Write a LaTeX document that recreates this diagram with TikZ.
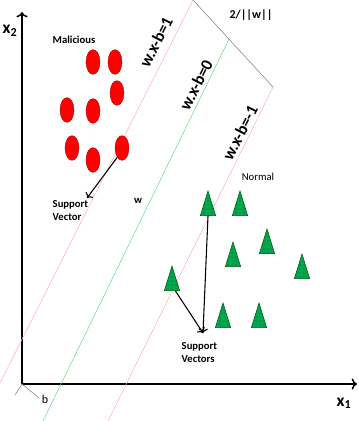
\documentclass[tikz,border=0pt]{standalone}
\usepackage{fontspec}
\setmainfont{Carlito}
\usetikzlibrary{arrows.meta,positioning,shapes.geometric,patterns}

\begin{document}
\begin{tikzpicture}[x=0.75pt,y=-0.75pt,
  mal/.style={ellipse, draw=red!70!black, line width=0.3pt, fill=red, minimum width=10.5pt, minimum height=18.5pt, inner sep=0pt},
  nor/.style={isosceles triangle, isosceles triangle stretches, shape border rotate=90, draw=green!35!black, line width=0.4pt, fill={rgb,255:red,0;green,166;blue,81}, postaction={pattern=dots, pattern color=green!40!black}, minimum width=11.5pt, minimum height=18.5pt, inner sep=0pt},
  lbl/.style={font=\bfseries\fontsize{8}{9.5}\selectfont, align=left},
  eqn/.style={font=\bfseries\fontsize{12.5}{14}\selectfont, rotate=63, inner sep=0pt}]
  \useasboundingbox (0,0) rectangle (358,421);

  % Draw axes
  \coordinate (o) at (22,384);
  \coordinate (ytop) at (22,12);
  \coordinate (xend) at (357,384);
  \draw[->, line width=1.1pt] (o) -- (ytop);
  \draw[->, line width=1.1pt] (o) -- (xend);
  \node[font=\bfseries\fontsize{13}{14}\selectfont] (x2) at (10,31) {x$_{\mathbf 2}$};
  \node[font=\bfseries\fontsize{13}{14}\selectfont] (x1) at (344,403) {x$_{\mathbf 1}$};

  % Hyperplanes
  \draw[red!30, line width=0.4pt] (0,383) -- (193,0);
  \draw[green!55!teal!60, line width=0.4pt] (43,421) -- (229,39);
  \draw[red!30, line width=0.4pt] (108,421) -- (273,87);
  \draw[gray, line width=0.4pt] (193,0) -- (273,87);
  \draw[gray, line width=0.4pt] (o) -- (15,395);
  \draw[gray, line width=0.4pt] (o) -- (39,398);

  \node[eqn] (h1) at (156,42) {w.x-b=1};
  \node[eqn] (h0) at (196,85) {w.x-b=0};
  \node[eqn] (hm) at (240,133) {w.x-b=-1};
  \node[lbl, font=\bfseries\fontsize{9}{10}\selectfont] (marg) at (251,15) {2/||w||};
  \node[lbl] (w) at (138,201) {w};
  \node[font=\fontsize{9}{10}\selectfont] (b) at (45,399) {b};

  % Malicious points
  \node[lbl] (mlab) at (74,40) {Malicious};
  \foreach \n/\px/\py in {1/93/62, 2/115/62, 3/117/93, 4/67/110, 5/93/111, 6/72/148, 7/93/160, 8/122/148}
    \node[mal] (e\n) at (\px,\py) {};

  % Normal points
  \node[font=\fontsize{8}{9.5}\selectfont] (nlab) at (258,177) {Normal};
  \foreach \n/\px/\py in {1/208/210, 2/240/210, 3/267/248, 4/233/261, 5/302/273, 6/223/322, 7/259/322, 8/172/285}
    \node[nor] (t\n) at (\px,\py) {};

  % Support vectors
  \coordinate (sv1) at (87,198);
  \draw[->, thick] (e8.243) -- (sv1);
  \node[lbl, anchor=north west] (svlab) at (48,196) {Support\\Vector};
  \coordinate (sv2) at (203,333);
  \draw[->, thick] (t1.lower side) -- (sv2);
  \draw[->, thick] (t8.-60) -- (sv2);
  \node[lbl, anchor=north west] (svslab) at (177,338) {Support\\Vectors};
\end{tikzpicture}
\end{document}
